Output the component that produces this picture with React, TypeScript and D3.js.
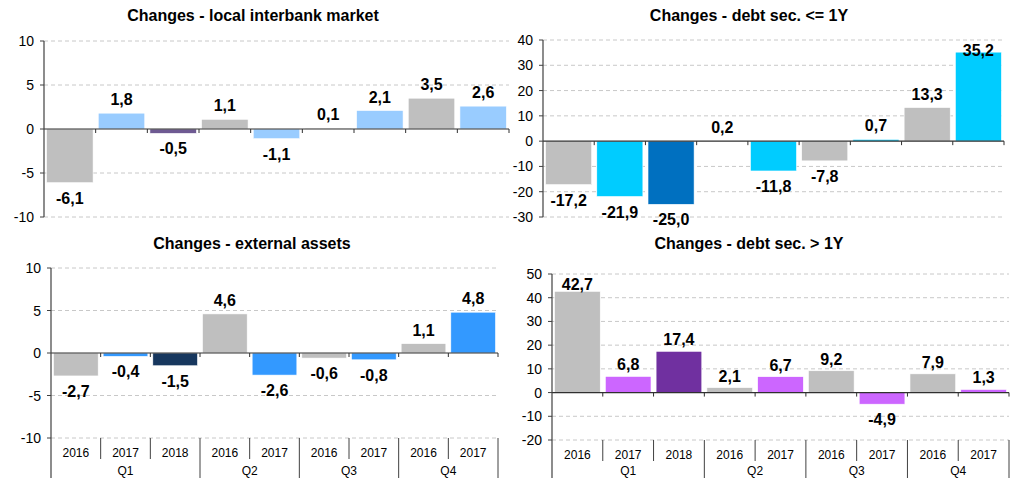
import React, { useRef, useEffect } from 'react';
import * as d3 from 'd3';

// categories
const years = ['2016', '2017', '2018', '2016', '2017', '2016', '2017', '2016', '2017'];
const quarters = ['Q1', 'Q2', 'Q3', 'Q4'];
const quarterSizes = [3, 2, 2, 2];

// series values
const interbank = [-6.1, 1.8, -0.5, 1.1, -1.1, 0.1, 2.1, 3.5, 2.6];
const debtShort = [-17.2, -21.9, -25.0, 0.2, -11.8, -7.8, 0.7, 13.3, 35.2];
const externalAssets = [-2.7, -0.4, -1.5, 4.6, -2.6, -0.6, -0.8, 1.1, 4.8];
const debtLong = [42.7, 6.8, 17.4, 2.1, 6.7, 9.2, -4.9, 7.9, 1.3];

// tick labels
const interbankTicks = [-10, -5, 0, 5, 10];
const debtShortTicks = [-30, -20, -10, 0, 10, 20, 30, 40];
const externalTicks = [-10, -5, 0, 5, 10];
const debtLongTicks = [-20, -10, 0, 10, 20, 30, 40, 50];

const FONT = '"Liberation Sans", Arial, sans-serif';

type Panel = {
  title: string;
  values: number[];
  ticks: number[];
  colors: Record<string, string>;
  left: number;
  right: number;
  top: number;
  bottom: number;
  titleX: number;
  titleY: number;
  categories: boolean;
  yearY?: number;
  quarterY?: number;
  sepLen?: number;
  labelUp: number;
};

const panels: Panel[] = [
  {
    title: 'Changes - local interbank market',
    values: interbank,
    ticks: interbankTicks,
    colors: { '2016': '#BFBFBF', '2017': '#99CCFF', '2018': '#6E5A92' },
    left: 44, right: 509, top: 41, bottom: 217,
    titleX: 253, titleY: 21, categories: false, labelUp: 8
  },
  {
    title: 'Changes - debt sec. <= 1Y',
    values: debtShort,
    ticks: debtShortTicks,
    colors: { '2016': '#BFBFBF', '2017': '#00CCFF', '2018': '#0070C0' },
    left: 543, right: 1004, top: 40, bottom: 217,
    titleX: 749, titleY: 21, categories: false, labelUp: 8
  },
  {
    title: 'Changes - external assets',
    values: externalAssets,
    ticks: externalTicks,
    colors: { '2016': '#BFBFBF', '2017': '#3399FF', '2018': '#17375E' },
    left: 51, right: 498, top: 268, bottom: 438,
    titleX: 252, titleY: 249, categories: true, yearY: 457, quarterY: 475, sepLen: 21, labelUp: 8
  },
  {
    title: 'Changes - debt sec. > 1Y',
    values: debtLong,
    ticks: debtLongTicks,
    colors: { '2016': '#BFBFBF', '2017': '#CC66FF', '2018': '#7030A0' },
    left: 552, right: 1009, top: 274, bottom: 440,
    titleX: 749, titleY: 249, categories: true, yearY: 459, quarterY: 475, sepLen: 21, labelUp: 6
  }
];

const fmt = (v: number) => v.toFixed(1).replace('.', ',');

export default function App(): JSX.Element {
  const svgRef = useRef<SVGSVGElement>(null);

  useEffect(() => {
    const el = svgRef.current;
    if (el == null) {
      return;
    }
    const svg = d3.select(el);
    svg.selectAll('*').remove();

    panels.forEach((p) => {
      const g = svg.append('g');
      const ids = p.values.map((_, i) => String(i));
      const x = d3
        .scaleBand()
        .domain(ids)
        .range([p.left, p.right])
        .paddingInner(0.1)
        .paddingOuter(0.05);
      const step = x.step();
      const y = d3
        .scaleLinear()
        .domain([d3.min(p.ticks) as number, d3.max(p.ticks) as number])
        .range([p.bottom, p.top]);
      const y0 = y(0);

      // title
      g.append('text')
        .attr('x', p.titleX)
        .attr('y', p.titleY)
        .attr('text-anchor', 'middle')
        .style('font-family', FONT)
        .style('font-size', '16px')
        .style('font-weight', 'bold')
        .text(p.title);

      // gridlines
      g.selectAll()
        .data(p.ticks.filter((t) => t !== 0))
        .join('line')
        .attr('x1', p.left)
        .attr('x2', p.right)
        .attr('y1', (d) => y(d))
        .attr('y2', (d) => y(d))
        .attr('stroke', '#C8C8C8')
        .attr('stroke-dasharray', '4,3');

      // bars
      g.selectAll()
        .data(p.values)
        .join('rect')
        .attr('x', (_, i) => x(String(i)) as number)
        .attr('y', (d) => Math.min(y(d), y0))
        .attr('width', x.bandwidth())
        .attr('height', (d) => Math.abs(y(d) - y0))
        .attr('fill', (_, i) => p.colors[years[i]])
        .attr('stroke', '#FFFFFF')
        .attr('stroke-width', 0.6);

      // y ticks + labels
      g.selectAll()
        .data(p.ticks)
        .join('line')
        .attr('x1', p.left - 4)
        .attr('x2', p.left)
        .attr('y1', (d) => y(d))
        .attr('y2', (d) => y(d))
        .attr('stroke', '#404040');
      g.selectAll()
        .data(p.ticks)
        .join('text')
        .attr('x', p.left - 10)
        .attr('y', (d) => y(d) + 5)
        .attr('text-anchor', 'end')
        .style('font-family', FONT)
        .style('font-size', '14px')
        .text((d) => String(d));

      // zero line & category ticks
      g.append('line')
        .attr('x1', p.left)
        .attr('x2', p.right)
        .attr('y1', y0)
        .attr('y2', y0)
        .attr('stroke', '#303030')
        .attr('stroke-width', 1.2);
      g.selectAll()
        .data(d3.range(1, p.values.length + 1))
        .join('line')
        .attr('x1', (i) => p.left + i * step)
        .attr('x2', (i) => p.left + i * step)
        .attr('y1', y0)
        .attr('y2', y0 + 4)
        .attr('stroke', '#303030');

      // y axis
      g.append('line')
        .attr('x1', p.left)
        .attr('x2', p.left)
        .attr('y1', p.top)
        .attr('y2', p.categories ? 478 : p.bottom)
        .attr('stroke', '#404040')
        .attr('stroke-width', 1.2);

      // data labels
      g.selectAll()
        .data(p.values)
        .join('text')
        .attr('x', (_, i) => (x(String(i)) as number) + x.bandwidth() / 2)
        .attr('y', (d) => (d >= 0 ? Math.max(y(d) - p.labelUp, p.top + 16) : y(d) + 21))
        .attr('text-anchor', 'middle')
        .style('font-family', FONT)
        .style('font-size', '16px')
        .style('font-weight', 'bold')
        .text((d) => fmt(d));

      if (p.categories) {
        const bounds = d3.cumsum(quarterSizes);
        // year labels
        g.selectAll()
          .data(years)
          .join('text')
          .attr('x', (_, i) => (x(String(i)) as number) + x.bandwidth() / 2)
          .attr('y', p.yearY as number)
          .attr('text-anchor', 'middle')
          .style('font-family', FONT)
          .style('font-size', '12px')
          .text((d) => d);
        // separators
        g.selectAll()
          .data(d3.range(1, p.values.length + 1))
          .join('line')
          .attr('x1', (i) => p.left + i * step)
          .attr('x2', (i) => p.left + i * step)
          .attr('y1', p.bottom)
          .attr('y2', (i) => (bounds.includes(i) ? 478 : p.bottom + (p.sepLen as number)))
          .attr('stroke', '#404040');
        // quarter labels
        g.selectAll()
          .data(quarters)
          .join('text')
          .attr('x', (_, k) => p.left + (bounds[k] - quarterSizes[k] / 2) * step)
          .attr('y', p.quarterY as number)
          .attr('text-anchor', 'middle')
          .style('font-family', FONT)
          .style('font-size', '12px')
          .text((d) => d);
      }
    });
  }, []);

  return (
    <svg
      ref={svgRef}
      width={1022}
      height={478}
      style={{ position: 'absolute', left: 0, top: 0, background: '#FFFFFF' }}
    />
  );
}
